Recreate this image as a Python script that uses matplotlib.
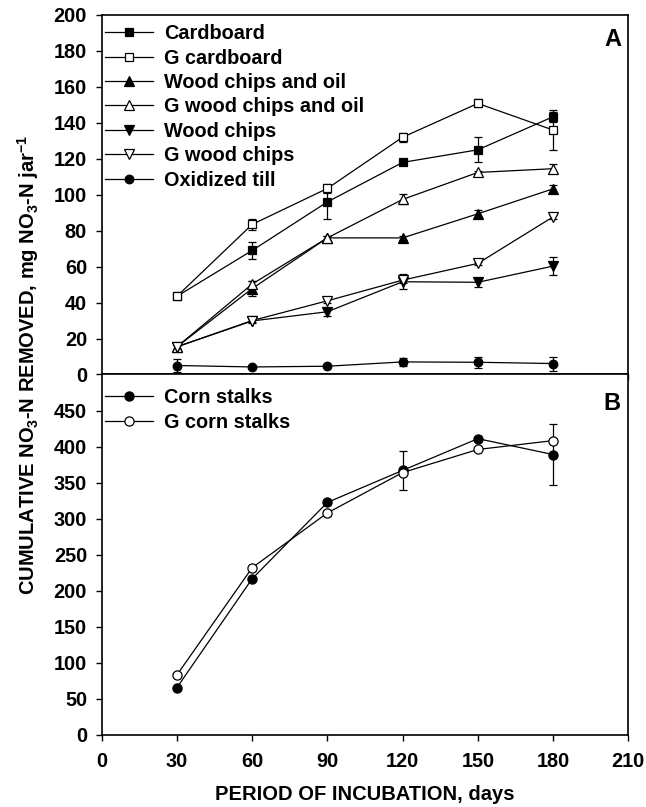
import matplotlib
matplotlib.use("Agg")
import matplotlib.pyplot as plt
from matplotlib import font_manager
from matplotlib.lines import Line2D

# ---------------- data ----------------
days = [30, 60, 90, 120, 150, 180]

cardboard = [43.5, 69, 96, 118, 125, 143.4]
cardboard_err = [1, 4.5, 9.7, 1.5, 7, 2.8]
g_cardboard = [43.5, 83.5, 103.5, 132, 150.8, 136]
g_cardboard_err = [1, 3, 2.5, 2.5, 2.2, 11]
wood_oil = [15.4, 47.8, 76, 76, 89.4, 103.3]
wood_oil_err = [1, 4, 1, 1, 2.3, 2.4]
g_wood_oil = [15.4, 50.3, 76, 97.4, 112.4, 114.5]
g_wood_oil_err = [1, 1.5, 1, 2.8, 1, 2.5]
wood = [15.4, 29.8, 34.9, 51.6, 51.3, 60.3]
wood_err = [1, 1, 2.1, 4.2, 2.5, 5]
g_wood = [15.4, 30, 41, 52.5, 61.8, 87.7]
g_wood_err = [1, 1, 1.2, 1.5, 1, 1]
oxid_till = [5.0, 4.2, 4.6, 7.0, 6.8, 6.1]
oxid_till_err = [3.5, 0.5, 0.5, 2.1, 3.1, 3.9]

corn = [65.7, 216.7, 322.6, 367, 411, 389]
corn_err = [2, 2, 3, 27, 2, 42]
g_corn = [83.3, 232, 308, 364, 396, 408.3]
g_corn_err = [2, 2, 4, 2, 2, 2]

top_labels = ["Cardboard", "G cardboard", "Wood chips and oil",
              "G wood chips and oil", "Wood chips", "G wood chips", "Oxidized till"]
bottom_labels = ["Corn stalks", "G corn stalks"]
top_yticks = [0, 20, 40, 60, 80, 100, 120, 140, 160, 180, 200]
bottom_yticks = [0, 50, 100, 150, 200, 250, 300, 350, 400, 450]
xticks = [0, 30, 60, 90, 120, 150, 180, 210]

# ---------------- style ----------------
names = {f.name for f in font_manager.fontManager.ttflist}
base = "Liberation Sans" if "Liberation Sans" in names else "DejaVu Sans"
narrow = "Liberation Sans Narrow" if "Liberation Sans Narrow" in names else base
plt.rcParams["font.family"] = [base, "DejaVu Sans"]
plt.rcParams["font.weight"] = "bold"
plt.rcParams["mathtext.fontset"] = "custom"
plt.rcParams["mathtext.default"] = "bf"
plt.rcParams["mathtext.bf"] = narrow + ":bold"
plt.rcParams["mathtext.rm"] = narrow + ":bold"

TICK_FS = 14.3
LEG_FS = 14.3

fig = plt.figure(figsize=(6.46, 8.07), dpi=100)
L = 101.7 / 646
W = (628.3 - 101.7) / 646
ax1 = fig.add_axes([L, 1 - 374.5 / 807, W, 359.5 / 807])
ax2 = fig.add_axes([L, 1 - 735 / 807, W, 360.5 / 807])

common = dict(color="black", lw=0.9, elinewidth=0.9, capsize=3.2, capthick=0.9,
              markeredgecolor="black", markeredgewidth=0.9)

series_top = [
    (cardboard, cardboard_err, "s", "black", 5.6),
    (g_cardboard, g_cardboard_err, "s", "white", 5.6),
    (wood_oil, wood_oil_err, "^", "black", 6.6),
    (g_wood_oil, g_wood_oil_err, "^", "white", 6.6),
    (wood, wood_err, "v", "black", 6.6),
    (g_wood, g_wood_err, "v", "white", 6.6),
    (oxid_till, oxid_till_err, "o", "black", 6.2),
]
series_bot = [
    (corn, corn_err, "o", "black", 6.6),
    (g_corn, g_corn_err, "o", "white", 6.6),
]


def draw(ax, series, labels):
    handles = []
    for (vals, err, m, fc, ms), lab in zip(series, labels):
        ax.errorbar(days, vals, yerr=err, marker=m, markerfacecolor=fc,
                    markersize=ms, **common)
        handles.append(Line2D([], [], color="black", lw=0.9, marker=m,
                              markerfacecolor=fc, markeredgecolor="black",
                              markeredgewidth=0.9, markersize=ms, label=lab))
    return handles


h1 = draw(ax1, series_top, top_labels)
h2 = draw(ax2, series_bot, bottom_labels)

for ax in (ax1, ax2):
    ax.set_xlim(0, 210)
    ax.set_xticks(xticks)
    for s in ax.spines.values():
        s.set_linewidth(1.2)
    ax.tick_params(direction="out", length=4.5, width=1.0, labelsize=TICK_FS, pad=6)

ax1.set_ylim(0, 200)
ax1.set_yticks(top_yticks)
ax1.tick_params(axis="x", labelbottom=False)
ax2.set_ylim(0, 500)
ax2.set_yticks(bottom_yticks)
ax2.tick_params(axis="x", pad=8)
for lab in ax1.get_yticklabels() + ax2.get_yticklabels() + ax2.get_xticklabels():
    lab.set_fontweight("bold")

leg_kw = dict(frameon=False, handlelength=2.4, handletextpad=0.6,
              labelspacing=0.27, borderaxespad=0.0, borderpad=0.0,
              prop={"weight": "bold", "size": LEG_FS})
ax1.legend(handles=h1, loc="upper left", bbox_to_anchor=(0.006, 0.974), **leg_kw)
ax2.legend(handles=h2, loc="upper left", bbox_to_anchor=(0.006, 0.962), **leg_kw)

ax1.text(0.986, 0.933, "A", transform=ax1.transAxes, ha="right", va="center",
         fontsize=17, fontweight="bold")
ax2.text(0.986, 0.92, "B", transform=ax2.transAxes, ha="right", va="center",
         fontsize=17, fontweight="bold")

fig.text(365 / 646, 1 - 794 / 807, "PERIOD OF INCUBATION, days",
         ha="center", va="center", fontsize=14.5, fontweight="bold")
fig.text(28 / 646, 1 - 365 / 807,
         r"CUMULATIVE NO$_3$-N REMOVED, mg NO$_3$-N jar$^{-1}$",
         rotation=90, ha="center", va="center", fontsize=14.5, fontweight="bold",
         family=[narrow, base])

fig.savefig("out.png", dpi=100)
